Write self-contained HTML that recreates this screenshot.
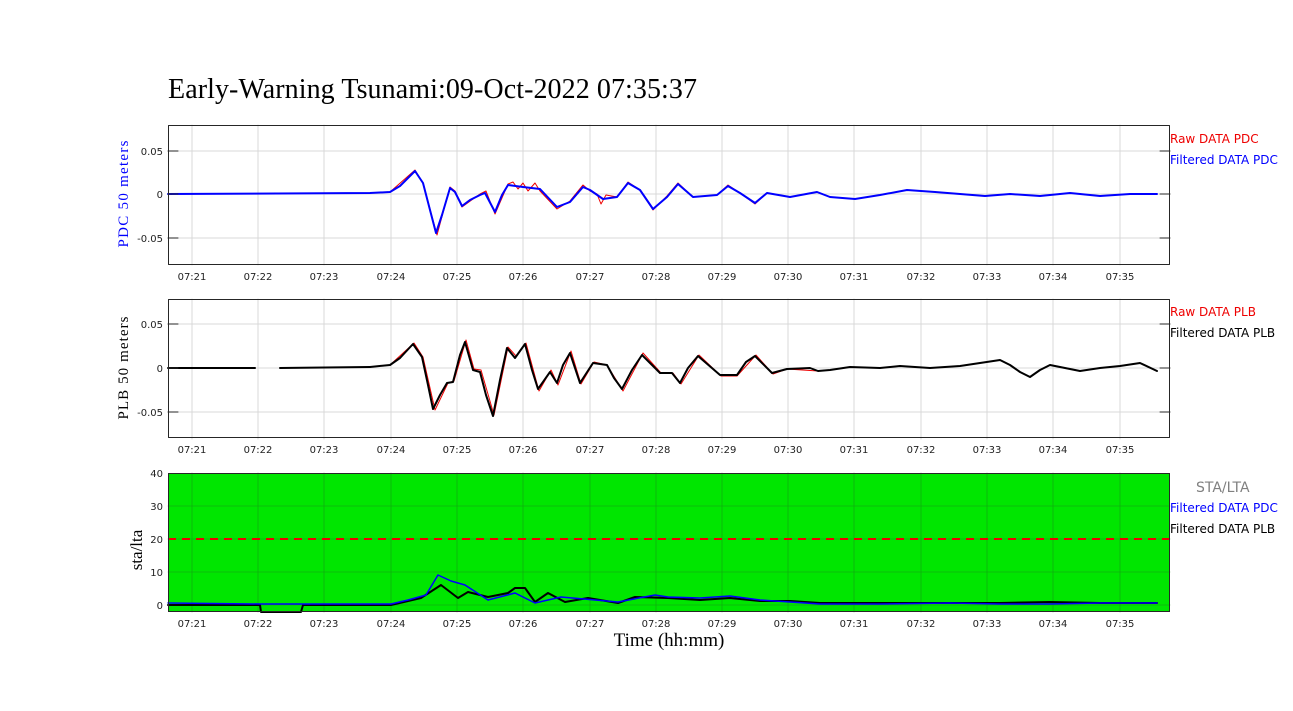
<!DOCTYPE html>
<html><head><style>body{margin:0;background:#fff}svg{display:block}</style></head><body>
<svg width="1293" height="711" xmlns="http://www.w3.org/2000/svg" font-family="'DejaVu Sans','Liberation Sans',sans-serif">
<rect width="1293" height="711" fill="#fff"/>
<text x="168" y="98" font-family="'Liberation Serif',serif" font-size="28" fill="#000" textLength="529">Early-Warning Tsunami:09-Oct-2022 07:35:37</text>
<defs>
<g id="vgrid" stroke="#d9d9d9" stroke-width="1">
<line x1="192" x2="192" y1="0" y2="140"/><line x1="258" x2="258" y1="0" y2="140"/><line x1="324" x2="324" y1="0" y2="140"/><line x1="391" x2="391" y1="0" y2="140"/><line x1="457" x2="457" y1="0" y2="140"/><line x1="523" x2="523" y1="0" y2="140"/><line x1="590" x2="590" y1="0" y2="140"/><line x1="656" x2="656" y1="0" y2="140"/><line x1="722" x2="722" y1="0" y2="140"/><line x1="788" x2="788" y1="0" y2="140"/><line x1="854" x2="854" y1="0" y2="140"/><line x1="921" x2="921" y1="0" y2="140"/><line x1="987" x2="987" y1="0" y2="140"/><line x1="1053" x2="1053" y1="0" y2="140"/><line x1="1120" x2="1120" y1="0" y2="140"/>
</g>
<g id="xlab" font-size="10" fill="#222" text-anchor="middle">
<text x="192">07:21</text><text x="258">07:22</text><text x="324">07:23</text><text x="391">07:24</text><text x="457">07:25</text><text x="523">07:26</text><text x="590">07:27</text><text x="656">07:28</text><text x="722">07:29</text><text x="788">07:30</text><text x="854">07:31</text><text x="921">07:32</text><text x="987">07:33</text><text x="1053">07:34</text><text x="1120">07:35</text>
</g>
</defs>
<g stroke-linejoin="round" stroke-linecap="round">
<!-- Plot 1 -->
<use href="#vgrid" y="125"/>
<g stroke="#d9d9d9"><line x1="168" x2="1170" y1="151" y2="151"/><line x1="168" x2="1170" y1="194" y2="194"/><line x1="168" x2="1170" y1="238" y2="238"/></g>
<polyline fill="none" stroke="#e00" stroke-width="1" points="168,194 370,193 390,192 415,170 423,183 437,235 450,187 455,191 462,207 480,194 486,191 495,214 508,184 513,182 518,189 523,183 528,191 535,183 540,191 557,209 570,201 583,185 590,191 597,194 601,204 606,195 617,197 628,182 640,190 653,210 667,196 678,183 693,197 717,195 728,185 740,193 755,204 767,193 790,197 817,192 830,197 855,199 880,195 907,190 935,192 960,194 985,196 1010,194 1040,196 1070,193 1100,196 1130,194 1157,194"/>
<polyline fill="none" stroke="#00f" stroke-width="2" points="168,194 370,193 390,192 400,186 415,171 423,183 430,210 436,233 442,215 450,188 455,192 462,206 470,200 480,195 485,193 495,212 502,195 508,185 523,187 540,189 557,207 570,202 583,187 590,190 603,199 617,197 628,183 640,190 653,209 667,197 678,184 693,197 717,195 728,186 740,193 755,203 767,193 790,197 817,192 830,197 855,199 880,195 907,190 935,192 960,194 985,196 1010,194 1040,196 1070,193 1100,196 1130,194 1157,194"/>
<rect x="168.5" y="125.5" width="1001" height="139" fill="none" stroke="#262626"/>
<g stroke="#262626"><line x1="168" x2="178" y1="151" y2="151"/><line x1="168" x2="178" y1="194" y2="194"/><line x1="168" x2="178" y1="238" y2="238"/><line x1="1160" x2="1170" y1="151" y2="151"/><line x1="1160" x2="1170" y1="194" y2="194"/><line x1="1160" x2="1170" y1="238" y2="238"/></g>
<g font-size="10" fill="#222" text-anchor="end"><text x="163" y="155">0.05</text><text x="163" y="198">0</text><text x="163" y="242">-0.05</text></g>
<use href="#xlab" y="280"/>
<text transform="translate(128,194) rotate(-90)" text-anchor="middle" font-family="'Liberation Serif',serif" font-size="15" textLength="107" fill="#00f">PDC 50 meters</text>
<text x="1170" y="143" font-size="12" fill="#e00">Raw DATA PDC</text>
<text x="1170" y="164" font-size="12" fill="#00f">Filtered DATA PDC</text>
<!-- Plot 2 -->
<use href="#vgrid" y="299"/>
<g stroke="#d9d9d9"><line x1="168" x2="1170" y1="324" y2="324"/><line x1="168" x2="1170" y1="368" y2="368"/><line x1="168" x2="1170" y1="412" y2="412"/></g>
<polyline fill="none" stroke="#e00" stroke-width="1" points="370,367 390,365 414,343 423,357 435,410 448,383 454,381 466,340 474,369 481,370 494,415 508,347 516,356 526,343 539,391 551,370 558,385 571,351 581,384 594,362 607,365 623,391 643,353 661,373 673,373 681,384 699,355 721,376 737,376 756,355 773,374 787,369 818,371"/>
<g fill="none" stroke="#000" stroke-width="2">
<polyline points="168,368 255,368"/><polyline points="280,368 370,367"/>
<polyline points="370,367 390,365 400,358 413,344 422,357 428,385 433,409 440,395 447,383 453,382 460,355 465,342 473,370 480,372 486,395 493,416 500,380 507,348 515,358 525,344 532,370 538,389 550,372 557,383 563,365 570,353 580,383 593,363 607,365 614,378 622,389 632,370 642,355 660,373 672,373 680,383 688,368 698,356 720,375 737,375 746,362 755,356 772,373 787,369 810,368 818,371 830,370 850,367 880,368 900,366 930,368 960,366 980,363 1000,360 1010,365 1020,372 1030,377 1040,370 1050,365 1065,368 1080,371 1100,368 1120,366 1140,363 1157,371"/>
</g>
<rect x="168.5" y="299.5" width="1001" height="138" fill="none" stroke="#262626"/>
<g stroke="#262626"><line x1="168" x2="178" y1="324" y2="324"/><line x1="168" x2="178" y1="368" y2="368"/><line x1="168" x2="178" y1="412" y2="412"/><line x1="1160" x2="1170" y1="324" y2="324"/><line x1="1160" x2="1170" y1="368" y2="368"/><line x1="1160" x2="1170" y1="412" y2="412"/></g>
<g font-size="10" fill="#222" text-anchor="end"><text x="163" y="328">0.05</text><text x="163" y="372">0</text><text x="163" y="416">-0.05</text></g>
<use href="#xlab" y="453"/>
<text transform="translate(128,368) rotate(-90)" text-anchor="middle" font-family="'Liberation Serif',serif" font-size="15" textLength="103" fill="#000">PLB 50 meters</text>
<text x="1170" y="316" font-size="12" fill="#e00">Raw DATA PLB</text>
<text x="1170" y="337" font-size="12" fill="#000">Filtered DATA PLB</text>
<!-- Plot 3 -->
<rect x="168" y="473" width="1002" height="139" fill="#00e600"/>
<g stroke="#1a8c1a" stroke-width="0.8" opacity="0.6">
<line x1="192" x2="192" y1="473" y2="612"/><line x1="258" x2="258" y1="473" y2="612"/><line x1="324" x2="324" y1="473" y2="612"/><line x1="391" x2="391" y1="473" y2="612"/><line x1="457" x2="457" y1="473" y2="612"/><line x1="523" x2="523" y1="473" y2="612"/><line x1="590" x2="590" y1="473" y2="612"/><line x1="656" x2="656" y1="473" y2="612"/><line x1="722" x2="722" y1="473" y2="612"/><line x1="788" x2="788" y1="473" y2="612"/><line x1="854" x2="854" y1="473" y2="612"/><line x1="921" x2="921" y1="473" y2="612"/><line x1="987" x2="987" y1="473" y2="612"/><line x1="1053" x2="1053" y1="473" y2="612"/><line x1="1120" x2="1120" y1="473" y2="612"/>
<line x1="168" x2="1170" y1="506" y2="506"/><line x1="168" x2="1170" y1="539" y2="539"/><line x1="168" x2="1170" y1="572" y2="572"/><line x1="168" x2="1170" y1="605" y2="605"/>
</g>
<line x1="168" x2="1170" y1="539" y2="539" stroke="#e00" stroke-width="2" stroke-dasharray="8,6" stroke-linecap="butt"/>
<polyline fill="none" stroke="#000" stroke-width="2" points="168,605 260,605 261,612 301,612 303,605 391,605 421,598 441,585 458,598 468,592 488,597 508,593 515,588 525,588 535,602 548,593 565,602 588,598 618,603 635,597 668,598 700,600 730,598 760,601 790,601 820,603 880,603 950,603 1000,603 1050,602 1100,603 1157,603"/>
<polyline fill="none" stroke="#00f" stroke-width="1.5" points="168,603 260,604 300,604 391,604 408,600 426,595 438,575 451,581 465,585 488,600 515,593 535,603 561,597 618,602 655,595 668,597 700,598 730,596 760,600 790,602 820,604 880,604 950,603 1000,604 1050,604 1100,603 1157,603"/>
<rect x="168.5" y="473.5" width="1001" height="138" fill="none" stroke="#262626"/>
</g>
<g font-size="10" fill="#222" text-anchor="end"><text x="163" y="477">40</text><text x="163" y="510">30</text><text x="163" y="543">20</text><text x="163" y="576">10</text><text x="163" y="609">0</text></g>
<use href="#xlab" y="627"/>
<text transform="translate(142,550) rotate(-90)" text-anchor="middle" font-family="'Liberation Serif',serif" font-size="17" fill="#000">sta/lta</text>
<text x="669" y="646" text-anchor="middle" font-family="'Liberation Serif',serif" font-size="19" fill="#000">Time (hh:mm)</text>
<text x="1196" y="492" font-size="14" fill="#808080">STA/LTA</text>
<text x="1170" y="512" font-size="12" fill="#00f">Filtered DATA PDC</text>
<text x="1170" y="533" font-size="12" fill="#000">Filtered DATA PLB</text>
</svg>
</body></html>
